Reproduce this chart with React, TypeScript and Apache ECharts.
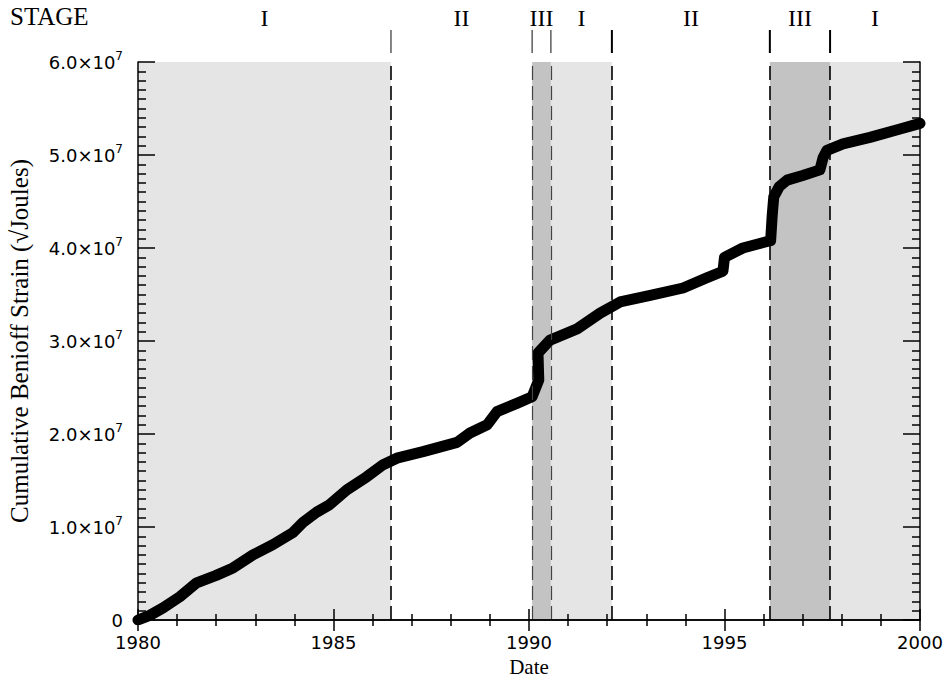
import React, { useEffect, useRef } from "react";
import * as echarts from "echarts";

// Curve: year, cumulative Benioff strain (units of 1e7 sqrt(J))
const years = [
  1980.0, 1980.3, 1980.64, 1981.07, 1981.3, 1981.5, 1982.0, 1982.43, 1982.94, 1983.45,
  1983.96, 1984.22, 1984.57, 1984.9, 1985.34, 1985.85, 1986.27, 1986.62, 1987.29, 1988.16,
  1988.49, 1988.93, 1989.18, 1989.69, 1990.08, 1990.25, 1990.24, 1990.23, 1990.54, 1991.23,
  1991.82, 1992.33, 1993.1, 1993.94, 1994.55, 1994.96, 1995.0, 1995.47, 1996.09, 1996.18,
  1996.22, 1996.26, 1996.4, 1996.6, 1997.0, 1997.44, 1997.52, 1997.62, 1998.03, 1998.72,
  1999.49, 2000.0,
];
const strain = [
  0.0, 0.05, 0.13, 0.25, 0.33, 0.4, 0.48, 0.56, 0.7, 0.81,
  0.94, 1.05, 1.16, 1.24, 1.4, 1.54, 1.67, 1.74, 1.81, 1.91,
  2.01, 2.1, 2.24, 2.33, 2.4, 2.58, 2.72, 2.87, 3.01, 3.13,
  3.3, 3.42, 3.49, 3.57, 3.68, 3.75, 3.9, 4.0, 4.07, 4.08,
  4.35, 4.55, 4.66, 4.73, 4.78, 4.84, 4.97, 5.05, 5.12, 5.19,
  5.28, 5.34,
];
const strainScale = 1e7;

const stageNames = ["I", "II", "III", "I", "II", "III", "I"];
const stageBounds = [1980, 1986.47, 1990.08, 1990.56, 1992.12, 1996.16, 1997.7, 2000];
const stageFill: Record<string, string | null> = { I: "#e5e5e5", II: null, III: "#c3c3c3" };

const xMin = 1980;
const xMax = 2000;
const xStep = 5;
const yMin = 0;
const yMax = 6e7;
const yStep = 1e7;

const serif = "'Liberation Serif', 'DejaVu Serif', serif";
const sans = "'DejaVu Sans', sans-serif";

export default function App() {
  const ref = useRef<HTMLDivElement>(null);

  useEffect(() => {
    const chart = echarts.init(ref.current!, null, { renderer: "svg" });
    const axisLine = { show: true, lineStyle: { color: "#000", width: 1.5 } };
    const xTick = { show: true, inside: true, length: 11, lineStyle: { color: "#000", width: 1.5 } };
    const xMinor = { show: true, splitNumber: 5, length: 6, lineStyle: { color: "#000", width: 1.5 } };
    const yTick = { show: true, inside: true, length: 17, lineStyle: { color: "#000", width: 1.5 } };
    const yMinor = { show: true, splitNumber: 10, length: 8, lineStyle: { color: "#000", width: 1.5 } };

    const areas: any[] = [];
    stageNames.forEach((s, i) => {
      const c = stageFill[s];
      if (c) {
        areas.push([
          { xAxis: stageBounds[i], itemStyle: { color: c } },
          { xAxis: stageBounds[i + 1] },
        ]);
      }
    });
    const lines = stageBounds.slice(1, -1).map((b, i) => ({
      xAxis: b,
      lineStyle: i === 1 || i === 2 ? { color: "#444", width: 1.2 } : undefined,
    }));

    const option: any = {
      animation: false,
      backgroundColor: "#fff",
      grid: { left: 138, right: 31, top: 62, bottom: 64, containLabel: false, outerBoundsMode: "none" },
      xAxis: [
        {
          type: "value", min: xMin, max: xMax, interval: xStep, position: "bottom", z: 10,
          axisLine, axisTick: xTick, minorTick: xMinor, splitLine: { show: false },
          axisLabel: {
            color: "#000", fontFamily: sans, fontSize: 18, margin: 13,
            formatter: (v: number) => String(v),
          },
          name: "Date", nameLocation: "middle", nameGap: 36,
          nameTextStyle: { fontFamily: serif, fontSize: 21, color: "#000" },
        },
        {
          type: "value", min: xMin, max: xMax, interval: xStep, position: "top", z: 10,
          axisLine, axisTick: xTick, minorTick: xMinor, splitLine: { show: false },
          axisLabel: { show: false },
        },
      ],
      yAxis: [
        {
          type: "value", min: yMin, max: yMax, interval: yStep, position: "left", z: 10,
          axisLine, axisTick: yTick, minorTick: yMinor, splitLine: { show: false },
          axisLabel: {
            margin: 15,
            formatter: (v: number) =>
              v === 0 ? "{a|0}" : `{a|${(v / 1e7).toFixed(1)}×10}{s|7}`,
            rich: {
              a: { fontFamily: sans, fontSize: 18, color: "#000" },
              s: { fontFamily: sans, fontSize: 12, color: "#000", padding: [0, 0, 12, 0] },
            },
          },
          name: "Cumulative Benioff Strain (√Joules)", nameLocation: "middle", nameGap: 106,
          nameTextStyle: { fontFamily: serif, fontSize: 25, color: "#000" },
        },
        {
          type: "value", min: yMin, max: yMax, interval: yStep, position: "right", z: 10,
          axisLine, axisTick: yTick, minorTick: yMinor, splitLine: { show: false },
          axisLabel: { show: false },
        },
      ],
      series: [
        {
          type: "line", name: "stages", data: [], z: 1, silent: true,
          markArea: { silent: true, data: areas, label: { show: false } },
          markLine: {
            silent: true, symbol: "none", label: { show: false },
            lineStyle: { color: "#000", width: 1.6, type: [14, 6] },
            data: lines,
          },
        },
        {
          type: "line", name: "strain", z: 3, showSymbol: false, symbol: "none",
          data: years.map((y, i) => [y, strain[i] * strainScale]),
          lineStyle: { color: "#000", width: 11, cap: "round", join: "round" },
        },
      ],
    };
    chart.setOption(option);

    const top = chart.convertToPixel({ yAxisIndex: 0 }, yMax) as number;
    const graphic: any[] = [
      {
        type: "text", left: 10, top: 4,
        style: { text: "STAGE", font: `25px ${serif}`, fill: "#000" },
      },
    ];
    stageNames.forEach((s, i) => {
      const mid = (stageBounds[i] + stageBounds[i + 1]) / 2;
      const px = chart.convertToPixel({ xAxisIndex: 0 }, mid) as number;
      graphic.push({
        type: "text", x: px, y: 18,
        style: { text: s, font: `24px ${serif}`, fill: "#000", align: "center", verticalAlign: "middle" },
      });
    });
    stageBounds.slice(1, -1).forEach((b, i) => {
      const px = chart.convertToPixel({ xAxisIndex: 0 }, b) as number;
      graphic.push({
        type: "line",
        shape: { x1: px, y1: 30, x2: px, y2: top - 9 },
        style: { stroke: i < 3 ? "#333" : "#000", lineWidth: i < 3 ? 1.2 : 2 },
      });
    });
    chart.setOption({ graphic });

    return () => chart.dispose();
  }, []);

  return (
    <div
      ref={ref}
      style={{ position: "fixed", left: 0, top: 0, width: 951, height: 684, background: "#fff" }}
    />
  );
}
